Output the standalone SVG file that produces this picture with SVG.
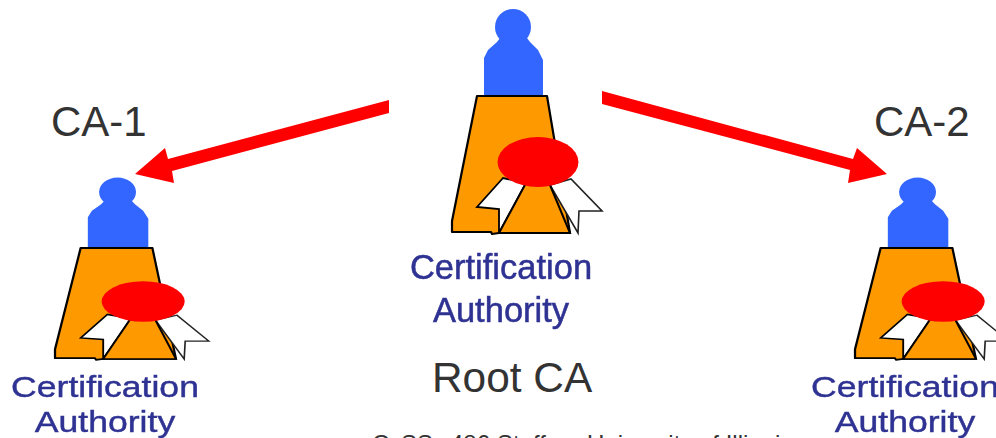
<svg xmlns="http://www.w3.org/2000/svg" width="996" height="438" viewBox="0 0 996 438">
<style>
.lbl{font-family:"Liberation Sans",Arial,sans-serif;font-size:42px;fill:#333333}
.root{font-size:42.4px}
.ca{font-family:"Liberation Sans",Arial,sans-serif;font-size:34.5px;fill:#2e3192;stroke:#2e3192;stroke-width:.5;text-anchor:middle;filter:url(#soft)}
.sm{font-size:35.6px}
.foot{font-family:"Liberation Sans",Arial,sans-serif;font-size:24px;fill:#333333}
.arrow{fill:#ff0000}
</style>
<defs>
<filter id="soft" x="-10%" y="-10%" width="120%" height="120%"><feGaussianBlur stdDeviation="0.6"/></filter>
<g id="icon" filter="url(#soft)">
<circle cx="513" cy="27" r="18" fill="#3366ff"/>
<path d="M500,38 L497,42 L488,50 L484,58 L484,96 L543,96 L543,60 L538,50 L530,42 L527,38 Z" fill="#3366ff"/>
<path d="M477,96 L547,96 L570,233 L499,233 L492,234 L491,232 L452,232 L452,221 Z" fill="#ff9900" stroke="#000" stroke-width="2.2" stroke-linejoin="round"/>
<path d="M503,178 L477,207 L499,209 L499,233 L526,183 Z" fill="#fff" stroke="#000" stroke-width="1.8"/>
<path d="M550,185 L578,233 L579,211 L602,211 L571,179 Z" fill="#fff" stroke="#222" stroke-width="1.6"/>
<path d="M526,183 L499,233 L570,233 L550,185 Z" fill="#ff9900" stroke="#000" stroke-width="2"/>
<ellipse cx="538" cy="162" rx="40.5" ry="25" fill="#ff0000"/>
</g>
</defs>
<g id="connectors">
<path class="arrow" d="M389,100 L389,113 L172,171 L174,183 L135,174 L165,148 L168,159 Z"/>
<path class="arrow" d="M602,91 L602,104 L850,170 L848,183 L887,174 L857,148 L853,159 Z"/>
</g>
<g id="root-ca">
<use href="#icon"/>
<text class="ca" x="501" y="279">Certification</text>
<text class="ca" x="501" y="322">Authority</text>
<text class="lbl root" x="432" y="392">Root CA</text>
</g>
<g id="ca-1">
<use href="#icon" transform="translate(54,248) scale(1.025,.81) translate(-451,-96)"/>
<text class="ca sm" transform="translate(105,397) scale(1,.85)">Certification</text>
<text class="ca sm" transform="translate(105,432) scale(1,.85)">Authority</text>
<text class="lbl" x="51" y="136">CA-1</text>
</g>
<g id="ca-2">
<use href="#icon" transform="translate(854,248) scale(1.025,.81) translate(-451,-96)"/>
<text class="ca sm" transform="translate(905,397) scale(1,.85)">Certification</text>
<text class="ca sm" transform="translate(905,432) scale(1,.85)">Authority</text>
<text class="lbl" x="874" y="136">CA-2</text>
</g>
<text class="foot" y="452"><tspan x="372">C</tspan> <tspan x="401">SS</tspan> <tspan x="450">486</tspan> <tspan x="497">Staff,</tspan> <tspan x="587">University of Illinois</tspan></text>
</svg>
